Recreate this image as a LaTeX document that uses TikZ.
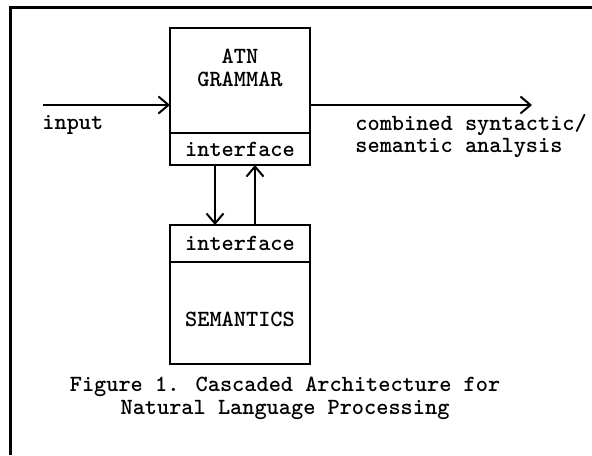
\documentclass[tikz,border=0pt]{standalone}
\usetikzlibrary{
    arrows.meta,
    positioning,
    calc
}
\tikzset{
    % Box styles
    unit box/.style={
        draw,
        line width=1.3pt,
        rectangle,
        minimum width=70pt,
        inner sep=0pt,
        outer sep=0pt,
        font=\ttfamily\bfseries\fontsize{11.6}{11.5}\selectfont
    },
    box text/.style={
        inner sep=0pt,
        align=center,
        font=\ttfamily\bfseries\fontsize{11.6}{11.5}\selectfont
    },
    % Arrow styles
    flow arrow/.style={
        -{Straight Barb[length=5pt,width=8.5pt]},
        line width=1pt
    },
    % Frame style
    frame line/.style={
        line width=1.5pt
    }
}

\begin{document}
\begin{tikzpicture}[x=0.5pt,y=-0.5pt]
        \useasboundingbox (0,0) rectangle (592,455);

        % Frame (left and top only)
        \draw[frame line] (10,455) -- (10,7) -- (592,7);

        % ATN grammar with its interface
        \node[unit box, minimum height=52.5pt] at (240,80.5) (atn) {};
        \node[unit box, minimum height=16pt, below=0pt of atn] (atnif) {interface};
        \node[box text] at (240,68) (atntext) {ATN\\GRAMMAR};

        % Semantics with its interface
        \node[unit box, minimum height=18.5pt] at (240,243.5) (semif) {interface};
        \node[unit box, minimum height=51pt, below=0pt of semif] (sem) {};
        \node[box text] at (240,319) (semtext) {SEMANTICS};

        % Input and output
        \coordinate (in) at (43,105);
        \coordinate (out) at (532,105);
        \draw[flow arrow] (in) -- (in -| atn.west);
        \draw[flow arrow] (in -| atn.east) -- (out);
        \node[box text, anchor=west] at (42,125) (inlabel) {input};
        \node[box text, anchor=west, align=left,
              font=\ttfamily\bfseries\fontsize{11.6}{11}\selectfont] at (355,136) (outlabel)
            {combined syntactic/\\semantic analysis};

        % Interface links
        \draw[flow arrow] ([xshift=-12.5pt]atnif.south) -- ([xshift=-12.5pt]semif.north);
        \draw[flow arrow] ([xshift=7.5pt]semif.north) -- ([xshift=7.5pt]atnif.south);

        % Caption
        \node[box text] at (285,398) (caption)
            {Figure 1. Cascaded Architecture for\\Natural Language Processing};
    \end{tikzpicture}
\end{document}
